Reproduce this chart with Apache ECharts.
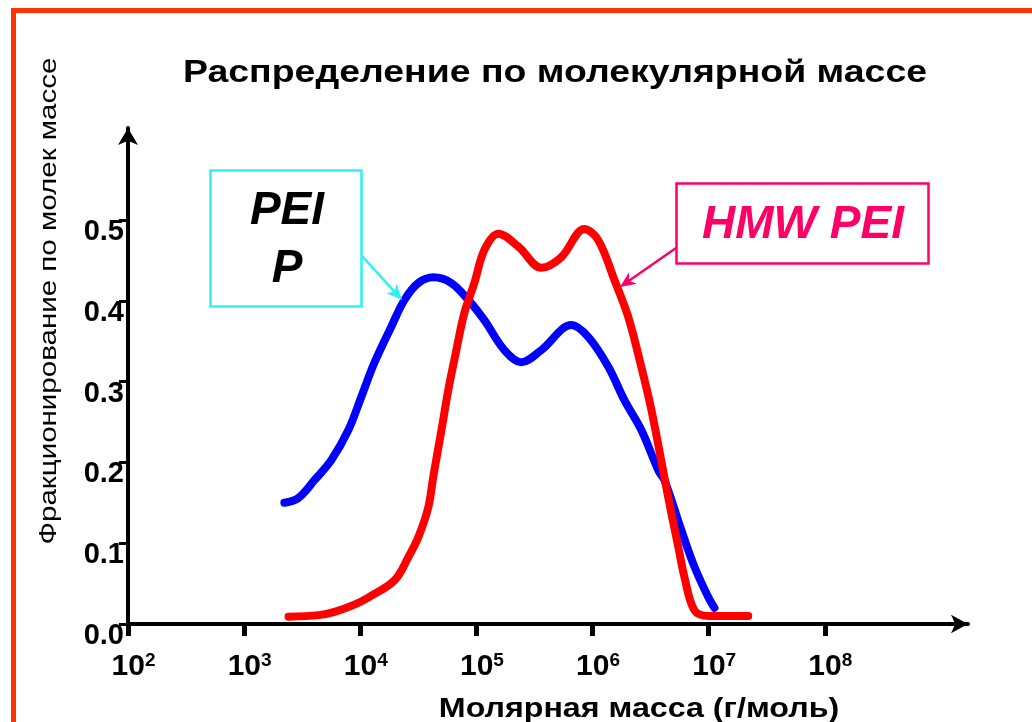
<!DOCTYPE html>
<html><head><meta charset="utf-8">
<script src="https://cdn.jsdelivr.net/npm/echarts@6/dist/echarts.min.js"></script>
<style>html,body{margin:0;padding:0;background:#fff}#c{width:1032px;height:722px}</style>
</head><body><div id="c"></div>
<script>
// ---- texts ----
const titleText = 'Распределение по молекулярной массе';
const yAxisTitle = 'Фракционирование по молек массе';
const xAxisTitle = 'Молярная масса (г/моль)';
const peiLabelLines = ['PEI', 'P'];
const hmwLabel = 'HMW PEI';

// ---- ticks ----
const xTickValues = [1e2, 1e3, 1e4, 1e5, 1e6, 1e7, 1e8];
const xTickExponents = ['2', '3', '4', '5', '6', '7', '8'];
const yTickValues = [0, 0.1, 0.2, 0.3, 0.4, 0.5];
const yTickLabels = ['0.0', '0.1', '0.2', '0.3', '0.4', '0.5'];

// ---- series: PEI P (blue) ----
const peiMass = [2220, 2930, 4030, 5640, 7900, 10200, 13200, 18500, 24000, 31600, 42600, 60800, 85300, 117000, 174000, 244000, 362000, 658000, 921000, 1370000, 1880000, 2630000, 3690000, 4160000, 5820000, 7530000, 9930000, 11200000];
const peiFraction = [0.150, 0.156, 0.178, 0.203, 0.240, 0.281, 0.323, 0.368, 0.401, 0.422, 0.429, 0.422, 0.401, 0.376, 0.339, 0.324, 0.339, 0.370, 0.355, 0.318, 0.277, 0.240, 0.190, 0.178, 0.116, 0.071, 0.033, 0.020];

// ---- series: HMW PEI (red) ----
const hmwMass = [2410, 4370, 6000, 8900, 11800, 19700, 26000, 31700, 38600, 42700, 50000, 57300, 64600, 78700, 96000, 117000, 154500, 230000, 362000, 538000, 849000, 1120000, 1540000, 2030000, 2630000, 3210000, 4150000, 4770000, 5480000, 6180000, 7530000, 9930000, 21900000];
const hmwFraction = [0.009, 0.011, 0.015, 0.024, 0.033, 0.054, 0.083, 0.108, 0.145, 0.184, 0.240, 0.290, 0.327, 0.385, 0.422, 0.463, 0.483, 0.467, 0.441, 0.454, 0.489, 0.475, 0.426, 0.380, 0.318, 0.265, 0.182, 0.137, 0.095, 0.058, 0.017, 0.010, 0.010];

// ---- arrow targets (data coords on the curves) ----
const peiArrowTarget = [22900, 0.401];
const hmwArrowTarget = [1720000, 0.417];

const FONT = '"Liberation Sans", Arial, Helvetica, sans-serif';
const GRID = {left: 128, right: 64, top: 128, bottom: 98};
const DECADE_PX = 116.14;
const xMax = Math.pow(10, 2 + (1032 - GRID.left - GRID.right) / DECADE_PX);
const yMax = (722 - GRID.top - GRID.bottom) / 808;

const chart = echarts.init(document.getElementById('c'), null, {renderer: 'canvas'});

chart.setOption({
  animation: false,
  backgroundColor: '#fff',
  grid: GRID,
  xAxis: {
    type: 'log', logBase: 10, min: 100, max: xMax,
    axisLine: {show: true, lineStyle: {color: '#000', width: 4}, symbol: ['none', 'arrow'], symbolSize: [14, 17]},
    axisTick: {show: true, customValues: xTickValues, length: 12, lineStyle: {color: '#000', width: 5}},
    minorTick: {show: false},
    splitLine: {show: false},
    axisLabel: {
      customValues: xTickValues, margin: 27,
      formatter: function (v) {
        const i = xTickValues.indexOf(Math.pow(10, Math.round(Math.log10(v))));
        return '{sp|}{b|10}{s|' + xTickExponents[i] + '}';
      },
      rich: {
        sp: {width: 11},
        b: {fontFamily: FONT, fontSize: 30, fontWeight: 'bold', color: '#000', lineHeight: 32},
        s: {fontFamily: FONT, fontSize: 19, fontWeight: 'bold', color: '#000', lineHeight: 17, verticalAlign: 'top'}
      }
    }
  },
  yAxis: {
    type: 'value', min: 0, max: yMax,
    axisLine: {show: true, lineStyle: {color: '#000', width: 4}, symbol: ['none', 'arrow'], symbolSize: [15, 17]},
    axisTick: {show: true, customValues: yTickValues, length: 9, lineStyle: {color: '#000', width: 3}},
    splitLine: {show: false},
    axisLabel: {
      customValues: yTickValues, margin: 4, verticalAlign: 'top', lineHeight: 24,
      formatter: function (v) {
        const i = yTickValues.findIndex(t => Math.abs(t - v) < 1e-6);
        return i >= 0 ? yTickLabels[i] : '';
      },
      fontFamily: FONT, fontSize: 29, fontWeight: 'bold', color: '#000'
    }
  },
  series: [
    {
      name: 'PEI P', type: 'line', showSymbol: false, symbol: 'none', smooth: 0.35,
      data: peiMass.map((m, i) => [m, peiFraction[i]]),
      lineStyle: {color: '#0000FF', width: 8, cap: 'round', join: 'round'}, z: 2
    },
    {
      name: 'HMW PEI', type: 'line', showSymbol: false, symbol: 'none', smooth: 0.35,
      data: hmwMass.map((m, i) => [m, hmwFraction[i]]),
      lineStyle: {color: '#FF0000', width: 8, cap: 'round', join: 'round'}, z: 3
    }
  ]
});

function arrow(start, tipData, color, id) {
  const tip = chart.convertToPixel({xAxisIndex: 0, yAxisIndex: 0}, tipData);
  const dx = tip[0] - start[0], dy = tip[1] - start[1];
  const len = Math.sqrt(dx * dx + dy * dy);
  const ux = dx / len, uy = dy / len, px = -uy, py = ux;
  const L = 16, W = 7, N = 5;
  const back = [tip[0] - ux * L, tip[1] - uy * L];
  const notch = [tip[0] - ux * (L - N), tip[1] - uy * (L - N)];
  return [
    {type: 'line', id: id + 'l', z: 20, shape: {x1: start[0], y1: start[1], x2: notch[0], y2: notch[1]}, style: {stroke: color, lineWidth: 2.5}},
    {type: 'polygon', id: id + 'h', z: 20, shape: {points: [tip, [back[0] + px * W, back[1] + py * W], notch, [back[0] - px * W, back[1] - py * W]]}, style: {fill: color}}
  ];
}

const CYAN = '#2EF2F2';
const PINK = '#FF0066';

chart.setOption({
  graphic: [
    {type: 'polyline', id: 'frame', z: 30, shape: {points: [[13.5, 740], [13.5, 10.5], [1040, 10.5]]}, style: {stroke: '#FF3300', lineWidth: 5, fill: null}},
    {type: 'text', id: 'title', x: 555, y: 73, scaleX: 1.17, z: 10,
      style: {text: titleText, fontFamily: FONT, fontSize: 32, fontWeight: 'bold', fill: '#000', align: 'center', verticalAlign: 'middle'}},
    {type: 'text', id: 'yname', x: 49, y: 301, rotation: Math.PI / 2, scaleX: 1.23, z: 10,
      style: {text: yAxisTitle, fontFamily: FONT, fontSize: 24, fill: '#000', align: 'center', verticalAlign: 'middle'}},
    {type: 'text', id: 'xname', x: 639, y: 709, scaleX: 1.15, z: 10,
      style: {text: xAxisTitle, fontFamily: FONT, fontSize: 28, fontWeight: 'bold', fill: '#000', align: 'center', verticalAlign: 'middle'}},
    {type: 'rect', id: 'peiBox', z: 15, shape: {x: 210.5, y: 170.5, width: 151, height: 136}, style: {fill: '#fff', stroke: CYAN, lineWidth: 2.5}},
    {type: 'text', id: 'peiText', z: 16, x: 287, y: 240,
      style: {text: peiLabelLines.join('\n'), fontFamily: FONT, fontSize: 46, fontWeight: 'bold', fontStyle: 'italic', fill: '#000', align: 'center', verticalAlign: 'middle', lineHeight: 58}},
    {type: 'rect', id: 'hmwBox', z: 15, shape: {x: 676.5, y: 183.5, width: 252, height: 80}, style: {fill: '#fff', stroke: PINK, lineWidth: 2.5}},
    {type: 'text', id: 'hmwText', z: 16, x: 803, y: 225,
      style: {text: hmwLabel, fontFamily: FONT, fontSize: 46, fontWeight: 'bold', fontStyle: 'italic', fill: PINK, align: 'center', verticalAlign: 'middle'}}
  ].concat(arrow([362, 256], peiArrowTarget, CYAN, 'pa'), arrow([676, 248], hmwArrowTarget, PINK, 'ha'))
});
</script>
</body></html>
